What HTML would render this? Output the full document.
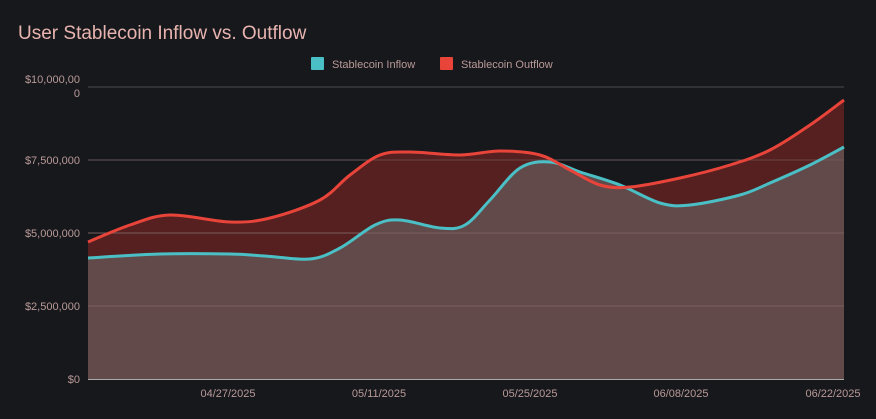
<!DOCTYPE html>
<html><head><meta charset="utf-8"><style>
html,body{margin:0;padding:0;background:#17181c;}
svg{display:block;font-family:"Liberation Sans",sans-serif;}
</style></head><body>
<svg id="s" width="876" height="419" viewBox="0 0 876 419">
<rect width="876" height="419" fill="#17181c"/>
<text x="18" y="39" font-size="19" fill="#e8b4b0">User Stablecoin Inflow vs. Outflow</text>
<rect x="311" y="57" width="13" height="13" fill="#4ac0c6" rx="1"/>
<text x="332" y="68" font-size="11" fill="#b99a98">Stablecoin Inflow</text>
<rect x="440" y="57" width="13" height="13" fill="#e8443a" rx="1"/>
<text x="461" y="68" font-size="11" fill="#b99a98">Stablecoin Outflow</text>
<g id="plot"></g>
<g font-size="11" fill="#b99a98" text-anchor="end">
<text x="80" y="83">$10,000,00</text><text x="80" y="97">0</text>
<text x="80" y="164">$7,500,000</text>
<text x="80" y="237">$5,000,000</text>
<text x="80" y="310">$2,500,000</text>
<text x="80" y="383">$0</text>
</g>
<g font-size="11" fill="#b99a98" text-anchor="middle">
<text x="228" y="397">04/27/2025</text>
<text x="379" y="397">05/11/2025</text>
<text x="530" y="397">05/25/2025</text>
<text x="681" y="397">06/08/2025</text>
<text x="833" y="397">06/22/2025</text>
</g>
</svg>
<script>
var inf=[[88,258],[160,254],[230,254],[265,256],[310,259],[340,248],[375,225],[400,220],[440,228],[465,225],[490,200],[520,168],[550,162],[580,172],[620,185],[660,203],[690,205],[740,195],[770,183],[810,165],[844,147]];
var out=[[88,242],[130,225],[170,215],[230,222],[270,218],[320,200],[350,175],[380,155],[410,152],[460,155],[500,151],[540,155],[570,170],[600,185],[630,187],[680,178],[730,165],[770,150],[810,125],[844,100]];
function cr(p){var d="M"+p[0][0]+","+p[0][1];for(var i=0;i<p.length-1;i++){var p0=p[i-1]||p[i],p1=p[i],p2=p[i+1],p3=p[i+2]||p2;
d+=" C"+(p1[0]+(p2[0]-p0[0])/6)+","+(p1[1]+(p2[1]-p0[1])/6)+" "+(p2[0]-(p3[0]-p1[0])/6)+","+(p2[1]-(p3[1]-p1[1])/6)+" "+p2[0]+","+p2[1];}return d;}
var g='';
[87,160,233,306].forEach(function(y){g+='<line x1="88" x2="844" y1="'+y+'" y2="'+y+'" stroke="#4a4a4e" stroke-width="1"/>';});
var a=cr(out),b=cr(inf);
g+='<path d="'+a+' L844,379 L88,379Z" fill="#55201f"/>';
g+='<path d="'+b+' L844,379 L88,379Z" fill="#634a4a"/>';
[233,306].forEach(function(y){g+='<line x1="88" x2="844" y1="'+y+'" y2="'+y+'" stroke="#7a5e5e" stroke-width="1"/>';});
g+='<line x1="88" x2="844" y1="160" y2="160" stroke="#7a5e5e" stroke-width="1" opacity="0.6"/>';
g+='<line x1="88" x2="844" y1="379.5" y2="379.5" stroke="#aaa" stroke-width="1"/>';
g+='<path d="'+b+'" fill="none" stroke="#4ac0c6" stroke-width="3"/>';
g+='<path d="'+a+'" fill="none" stroke="#e8443a" stroke-width="3"/>';
document.getElementById('plot').innerHTML=g;
</script>
</body></html>
